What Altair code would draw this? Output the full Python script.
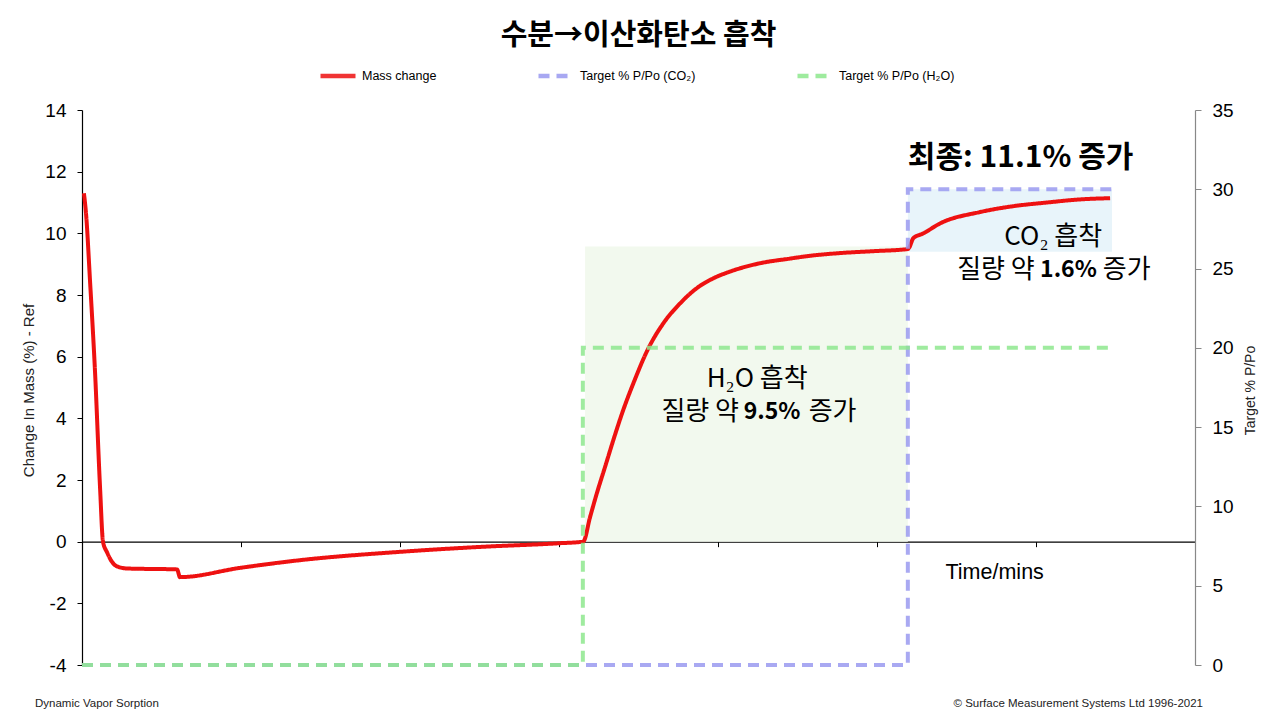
import altair as alt
import pandas as pd

# ---------------- data ----------------
mass_time = [6, 13, 25, 41, 57, 66, 79, 94, 110, 142, 299, 308, 497, 686, 1000, 1252, 1503,
             1576, 1598, 1619, 1645, 1671, 1702, 1734, 1781, 1828, 1881, 1933, 1985, 2038,
             2132, 2226, 2280, 2384, 2487, 2597,
             2602, 2614, 2646, 2698, 2824, 2928, 3035, 3138, 3233]
mass_value = [11.3, 10.6, 8.5, 5.5, 1.7, 0.0, -0.35, -0.65, -0.8, -0.87, -0.9, -1.15, -0.85, -0.6,
              -0.33, -0.17, -0.05,
              0.0, 0.81, 1.57, 2.43, 3.30, 4.27, 5.14, 6.27, 7.08, 7.73, 8.22, 8.54, 8.76,
              9.03, 9.18, 9.26, 9.36, 9.42, 9.49,
              9.55, 9.84, 10.0, 10.32, 10.69, 10.88, 11.0, 11.1, 11.14]

co2_time = [0, 2597, 2597, 3239]
co2_pct = [0, 0, 30, 30]
h2o_time = [0, 1575, 1575, 3239]
h2o_pct = [0, 0, 20, 20]

series_names = ["Mass change", "Target % P/Po (CO₂)", "Target % P/Po (H₂O)"]
series_colors = ["#ee1111", "#9a9af0", "#8ee88e"]

# shaded regions (time start, time end, mass low, mass high)
shade_t1 = [1582, 2597]
shade_t2 = [2597, 3239]
shade_lo = [0.0, 9.4]
shade_hi = [9.57, 11.43]
shade_col = ["#f2f9ee", "#e8f4fa"]

x_ticks = [500, 1000, 1500, 2000, 2500, 3000]
y_left_ticks = list(range(-4, 15, 2))
y_right_ticks = list(range(0, 36, 5))

# annotation texts
normal_txt = ["H₂O 흡착", "질량 약", "증가", "CO₂ 흡착", "질량 약", "증가"]
normal_t = [2123, 2066, 2285, 3208, 2996, 3210]
normal_v = [5.28, 4.19, 4.19, 9.87, 8.8, 8.8]
normal_align = ["center", "right", "left", "right", "right", "left"]

bold_txt = ["9.5%", "1.6%"]
bold_t = [2170, 3102]
bold_v = [4.19, 8.8]

final_txt = ["최종: 11.1% 증가"]
final_t = [2597]
final_v = [12.45]

# ---------------- frames ----------------
mass_df = pd.DataFrame({"t": mass_time, "v": mass_value, "series": series_names[0],
                        "o": range(len(mass_time))})
tgt_df = pd.concat([
    pd.DataFrame({"t": co2_time, "p": co2_pct, "series": series_names[1], "o": range(4)}),
    pd.DataFrame({"t": h2o_time, "p": h2o_pct, "series": series_names[2], "o": range(4)}),
])
shade_df = pd.DataFrame({"t1": shade_t1, "t2": shade_t2, "lo": shade_lo, "hi": shade_hi,
                         "c": shade_col})
norm_df = pd.DataFrame({"t": normal_t, "v": normal_v, "txt": normal_txt, "al": normal_align})
bold_df = pd.DataFrame({"t": bold_t, "v": bold_v, "txt": bold_txt})
final_df = pd.DataFrame({"t": final_t, "v": final_v, "txt": final_txt})

KR = "Noto Sans CJK KR"
LAT = "Liberation Sans"

x_axis = alt.Axis(values=x_ticks, labels=False, grid=False, tickSize=5,
                  tickColor="black", domainColor="black", domainWidth=1.2,
                  offset=-123.33, title="Time/mins", titleFont=LAT,
                  titleFontSize=21.5, titleFontWeight="normal", titleColor="black",
                  titleX=863, titleY=31, titleAlign="left",
                  titleBaseline="middle", titleAnchor="start")
x_scale = alt.Scale(domain=[0, 3500], nice=False, zero=False)


def xe(field):
    return alt.X(field, scale=x_scale, axis=x_axis)


y_axis = alt.Axis(values=y_left_ticks, grid=False, tickSize=5, tickColor="black",
                  domainColor="black", domainWidth=1.2, labelFont=LAT,
                  labelFontSize=19, labelColor="black", labelPadding=11,
                  labelExpr="datum.value < 0 ? '-' + abs(datum.value) : '' + datum.value",
                  title="Change In Mass (%) - Ref", titleFont=LAT,
                  titleFontSize=15, titleFontWeight="normal", titleColor="#222",
                  titleAngle=270, titleX=-54, titleY=280, titleAlign="center",
                  titleBaseline="middle", titleAnchor="middle")
y_scale = alt.Scale(domain=[-4, 14], nice=False, zero=False)


def ye(field):
    return alt.Y(field, scale=y_scale, axis=y_axis)


color_enc = alt.Color("series:N", scale=alt.Scale(domain=series_names, range=series_colors),
                      legend=alt.Legend(title=None, orient="none", legendX=236, legendY=-54,
                                        direction="horizontal", columns=3,
                                        columnPadding=92, symbolType="stroke",
                                        symbolSize=1225, symbolStrokeWidth=4.5,
                                        labelFont=LAT, labelFontSize=12.5, labelColor="black",
                                        labelOffset=4))
dash_enc = alt.StrokeDash("series:N",
                          scale=alt.Scale(domain=series_names,
                                          range=[[1, 0], [11, 7], [11, 7]]),
                          legend=None)

shade = alt.Chart(shade_df).mark_rect().encode(
    x=xe("t1:Q"), x2="t2:Q", y=ye("lo:Q"), y2="hi:Q",
    color=alt.Color("c:N", scale=None),
)

mass_line = alt.Chart(mass_df).mark_line(strokeWidth=4, strokeJoin="round",
                                         interpolate="monotone").encode(
    x=xe("t:Q"), y=ye("v:Q"), order="o:Q", color=color_enc, strokeDash=dash_enc)


def txt_layer(df, align, weight, size):
    return alt.Chart(df).mark_text(font=KR, fontSize=size, color="black", align=align,
                                   baseline="middle", fontWeight=weight).encode(
        x=xe("t:Q"), y=ye("v:Q"), text="txt:N")


t_center = txt_layer(norm_df[norm_df.al == "center"], "center", "normal", 26)
t_right = txt_layer(norm_df[norm_df.al == "right"], "right", "normal", 26)
t_left = txt_layer(norm_df[norm_df.al == "left"], "left", "normal", 26)
t_bold = txt_layer(bold_df, "center", "bold", 23)
t_final = txt_layer(final_df, "left", "bold", 30)

left = alt.layer(shade, mass_line, t_center, t_right, t_left, t_bold, t_final)

tgt = alt.Chart(tgt_df).mark_line(strokeWidth=4, opacity=0.85).encode(
    x=xe("t:Q"),
    y=alt.Y("p:Q", scale=alt.Scale(domain=[0, 35], nice=False, zero=False),
            axis=alt.Axis(orient="right", values=y_right_ticks, grid=False, tickSize=6,
                          tickColor="#888", domainColor="#888", domainWidth=1.2,
                          labelFont=LAT, labelFontSize=19, labelColor="black",
                          labelPadding=11, title="Target % P/Po", titleFont=LAT,
                          titleFontSize=14, titleFontWeight="normal", titleColor="#222",
                          titleAngle=270, titleX=55, titleY=280, titleAlign="center",
                          titleBaseline="middle", titleAnchor="middle")),
    order="o:Q", color=color_enc, strokeDash=dash_enc, detail="series:N")

footer_df = pd.DataFrame({"txt": ["Dynamic Vapor Sorption"]})
footer2_df = pd.DataFrame({"txt": ["© Surface Measurement Systems Ltd 1996-2021"]})
footer1 = alt.Chart(footer_df).mark_text(font=LAT, fontSize=11.5, color="#222", align="left",
                                         baseline="middle").encode(
    x=alt.value(-47), y=alt.value(594), text="txt:N")
footer2 = alt.Chart(footer2_df).mark_text(font=LAT, fontSize=11.5, color="#222", align="right",
                                          baseline="middle").encode(
    x=alt.value(1121), y=alt.value(594), text="txt:N")

chart = alt.layer(left, tgt, footer1, footer2).resolve_scale(y="independent").properties(
    width=1113, height=555,
    title=alt.TitleParams("수분→이산화탄소 흡착", font=KR, fontSize=29, fontWeight="bold",
                          color="black", anchor="middle", offset=5),
    padding={"left": 74, "top": 102, "right": 77, "bottom": 47},
    autosize=alt.AutoSizeParams(type="none"),
    background="white",
).configure_view(stroke=None)

chart.save("out.html", embed_options={"renderer": "svg", "actions": False})
